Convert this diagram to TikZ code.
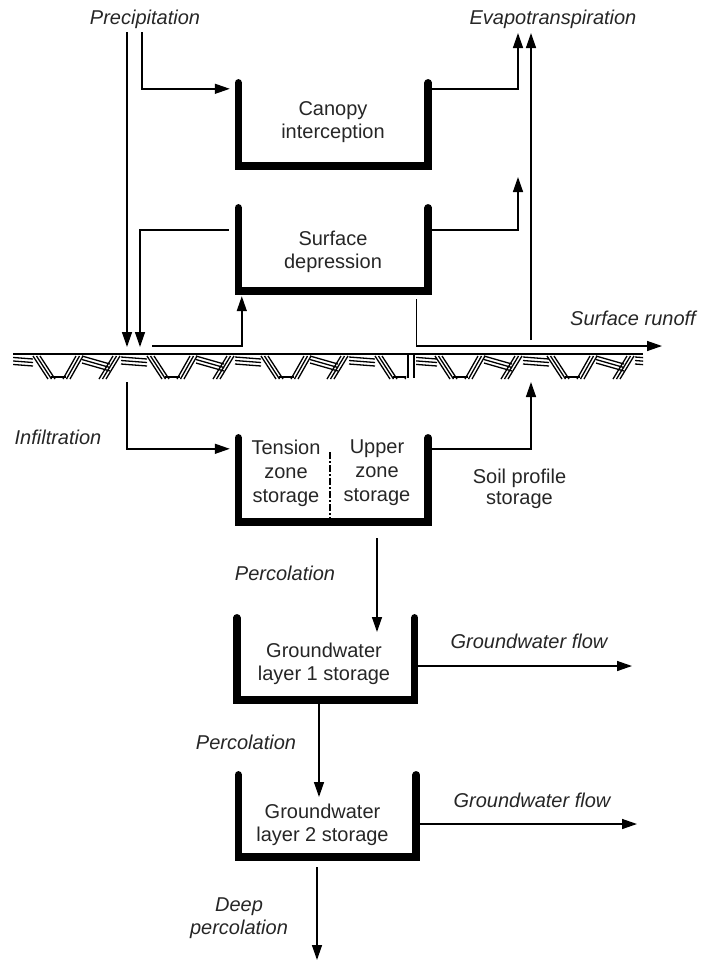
\documentclass[tikz,border=0pt]{standalone}
\usepackage{fontspec}
\setmainfont{Liberation Sans}
\usetikzlibrary{arrows.meta}
\newcommand\gmotif[1]{%
  \begin{scope}[shift={(#1,0)}]
    \foreach \d in {0,3.5,7} \draw[hatch] (\d,356) -- (\d+15,379);
    \draw[hatch] (18,377) -- (33,377);
    \foreach \d in {0,3.5,7} \draw[hatch] (30+\d,379) -- (43+\d,356);
    \foreach \d in {0,3.5,7} \draw[hatch] (49,356+\d) -- (77,364+\d);
    \foreach \d in {0,3.5,7} \draw[hatch] (66+\d,379) -- (80+\d,356);
    \foreach \d in {0,3.5,7} \draw[hatch] (88,357+\d) -- (114,359+\d);
  \end{scope}}
\begin{document}
\begin{tikzpicture}[x=1pt,y=-1pt,
  wall/.style={line width=7.5pt, line join=miter, line cap=round},
  flow/.style={line width=1.4pt, -{Triangle[length=15pt,width=10pt]}},
  lbl/.style={font=\fontsize{20}{23}\selectfont\itshape, text=black!85, inner sep=0pt, align=center},
  txt/.style={font=\fontsize{20}{23}\selectfont, text=black!85, inner sep=0pt, align=center},
  box/.style={draw=none, inner sep=0pt, rectangle},
  hatch/.style={line width=1.3pt},
  divider/.style={line width=2pt, dash pattern=on 7pt off 2pt on 2pt off 2pt}
]
\useasboundingbox (0,0) rectangle (716,962);

% ---- boxes ----
\node[box, minimum width=189.5pt, minimum height=83pt] (canopy) at (333.25,124.5) {};
\node[box, minimum width=189.5pt, minimum height=83pt] (depr) at (333.25,249.5) {};
\node[box, minimum width=189.5pt, minimum height=84pt] (soil) at (333.25,480) {};
\node[box, minimum width=177.5pt, minimum height=82pt] (gw1) at (325.75,659) {};
\node[box, minimum width=177.5pt, minimum height=82pt] (gw2) at (327.25,816) {};
\foreach \b in {canopy,depr,soil,gw1,gw2}
  \draw[wall] (\b.north west) -- (\b.south west) -- (\b.south east) -- (\b.north east);

% ---- box texts ----
\node[txt] (canopyt) at (333,122) {Canopy\\interception};
\node[txt] (deprt) at (333,251.5) {Surface\\depression};
\node[txt, font=\fontsize{20}{24}\selectfont] (tens) at (286,473) {Tension\\zone\\storage};
\node[txt, font=\fontsize{20}{24}\selectfont] (upper) at (377,473) {Upper\\zone\\storage};
\draw[divider] (330,452) -- (330,522);
\node[txt] (gw1t) at (324,664) {Groundwater\\layer 1 storage};
\node[txt] (gw2t) at (322.5,824.5) {Groundwater\\layer 2 storage};

% ---- labels ----
\node[lbl] (prec) at (145,19) {Precipitation};
\node[lbl] (evap) at (553,19) {Evapotranspiration};
\node[lbl] (runoff) at (633,318) {Surface runoff};
\node[lbl] (infl) at (58,437) {Infiltration};
\node[txt, font=\fontsize{20}{21}\selectfont] (soilp) at (519.5,488.5) {Soil profile\\storage};
\node[lbl] (perc1) at (285,573) {Percolation};
\node[lbl] (gwf1l) at (529,641) {Groundwater flow};
\node[lbl] (perc2) at (246,742) {Percolation};
\node[lbl] (gwf2l) at (532,800) {Groundwater flow};
\node[lbl] (deep) at (239,918.5) {Deep\\percolation};

% ---- coordinates ----
\coordinate (p1s) at (127,32);
\coordinate (g1) at (127,347);
\coordinate (p2s) at (142,32);
\coordinate (g2) at (140,347);
\coordinate (et1) at (518,33);
\coordinate (et2s) at (531,340);
\coordinate (et2) at (531,33);
\coordinate (et3) at (518,177);
\coordinate (gr1) at (152,346);
\coordinate (ro) at (662,346);
\coordinate (inf) at (127,382);
\coordinate (et4) at (531,382);
\coordinate (perc1e) at (377,632);
\coordinate (gwf1) at (632,666);
\coordinate (perc2e) at (319,797);
\coordinate (gwf2) at (637,824);
\coordinate (deepe) at (317,960);

% ---- connectors ----
\draw[flow] (p1s) -- (g1);
\draw[flow] (p2s) |- ([xshift=-8.5pt,yshift=-6pt]canopy.north west);
\draw[flow] ([xshift=3pt,yshift=-6pt]canopy.north east) -| (et1);
\draw[flow] (et2s) -- (et2);
\draw[flow] ([xshift=-9.5pt,yshift=-22pt]depr.north west) -| (g2);
\draw[flow] ([xshift=3pt,yshift=-22pt]depr.north east) -| (et3);
\draw[flow] (gr1) -| ([xshift=3.5pt,yshift=-5pt]depr.south west);
\draw[flow] ([xshift=-12pt,yshift=-8pt]depr.south east) |- (ro);
\draw[flow] (inf) |- ([xshift=-8.5pt,yshift=-11pt]soil.north west);
\draw[flow] ([xshift=3pt,yshift=-11pt]soil.north east) -| (et4);
\draw[flow] ([xshift=43.75pt,yshift=-16pt]soil.south) -- (perc1e);
\draw[flow] ([xshift=3pt,yshift=-7pt]gw1.east) -- (gwf1);
\draw[flow] ([xshift=-6.75pt,yshift=-3pt]gw1.south) -- (perc2e);
\draw[flow] ([xshift=3pt,yshift=-8pt]gw2.east) -- (gwf2);
\draw[flow] ([xshift=-10.25pt,yshift=-10pt]gw2.south) -- (deepe);

% ---- ground ----
\draw[line width=1.8pt] (13,354) -- (643,354);
\begin{scope}
  \clip (13,355) rectangle (406,381);
  \foreach \x in {-81,33,147,261,375} {\gmotif{\x}}
\end{scope}
\begin{scope}
  \clip (416,355) rectangle (643,381);
  \foreach \x in {323,435,547} {\gmotif{\x}}
\end{scope}
\draw[line width=1.3pt] (408,355) -- (408,378) (414,355) -- (414,378);
\end{tikzpicture}
\end{document}
